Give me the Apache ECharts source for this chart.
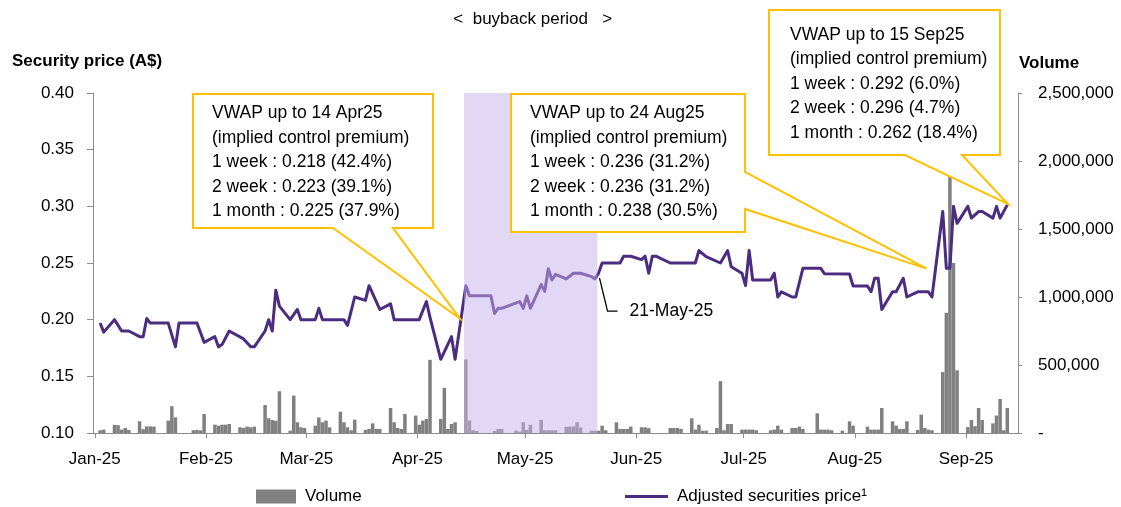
<!DOCTYPE html>
<html>
<head>
<meta charset="utf-8">
<title>Security price and volume</title>
<script src="https://cdn.jsdelivr.net/npm/echarts@6/dist/echarts.min.js"></script>
<style>
  html, body { margin: 0; padding: 0; background: #fff; }
  #chart { width: 1121px; height: 507px; }
</style>
</head>
<body>
<div id="chart"></div>
<script>
// price turning points, [day of month, A$]
const priceJan = [[2, .197], [3, .189], [6, .200], [8, .190], [10, .190], [13, .185], [14, .185], [15, .201], [16, .197], [21, .197], [23, .176], [24, .197], [29, .197], [31, .180]];
const priceFeb = [[3, .185], [4, .176], [5, .178], [7, .190], [11, .183], [13, .176], [14, .176], [17, .190], [18, .200], [19, .190], [20, .226], [21, .212], [24, .200], [26, .209], [27, .200]];
const priceMar = [[3, .200], [4, .210], [5, .200], [11, .200], [12, .195], [14, .220], [17, .217], [18, .230], [21, .209], [24, .214], [25, .200], [31, .200]];
const priceApr = [[1, .200], [3, .216], [4, .202], [7, .165], [10, .185], [11, .165], [14, .230], [15, .221], [21, .221], [22, .2055], [23, .210], [24, .210], [29, .216], [30, .210]];
const priceMay = [[1, .221], [2, .210], [5, .231], [6, .225], [7, .245], [8, .235], [9, .240], [12, .236], [14, .241], [16, .241], [19, .238], [20, .236], [21, .241], [22, .250], [27, .250], [28, .256], [30, .256]];
const priceJun = [[2, .253], [3, .256], [4, .241], [5, .256], [6, .256], [10, .250], [17, .250], [18, .261], [20, .2556], [24, .250], [26, .261], [27, .2467], [30, .241]];
const priceJul = [[1, .230], [2, .261], [3, .235], [8, .235], [9, .241], [10, .220], [11, .2246], [14, .220], [15, .220], [17, .2453], [22, .2453], [23, .2405], [30, .2403], [31, .2297]];
const priceAug = [[4, .2297], [5, .2246], [6, .2365], [7, .2365], [8, .209], [11, .2246], [12, .2246], [14, .2365], [15, .220], [18, .2246], [21, .2246], [22, .220], [25, .2954], [26, .2453], [27, .2453], [28, .300], [29, .285]];
const priceSep = [[1, .300], [2, .2896], [4, .2954], [5, .2954], [8, .2896], [9, .300], [10, .2896], [12, .3013]];

// daily volume, [day of month, thousands of shares]
const volJan = [[2, 20], [3, 25], [6, 60], [7, 58], [8, 25], [9, 37], [10, 22], [13, 86], [14, 28], [15, 49], [16, 49], [17, 47], [21, 91], [22, 197], [23, 115], [28, 20], [29, 22], [30, 20], [31, 140]];
const volFeb = [[3, 61], [4, 54], [5, 61], [6, 61], [7, 66], [10, 42], [11, 37], [12, 47], [13, 42], [14, 47], [17, 206], [18, 108], [19, 95], [20, 90], [21, 307], [24, 17], [25, 275], [26, 79], [27, 42], [28, 37]];
const volMar = [[3, 54], [4, 115], [5, 79], [6, 91], [7, 42], [10, 157], [11, 79], [12, 42], [13, 20], [14, 98], [17, 22], [18, 30], [19, 71], [20, 30], [21, 30], [24, 184], [25, 79], [26, 37], [27, 30], [28, 140], [31, 128]];
const volApr = [[1, 61], [2, 91], [3, 103], [4, 538], [7, 103], [8, 332], [9, 30], [10, 66], [11, 79], [14, 540], [15, 92], [16, 20], [17, 15], [22, 15], [23, 30], [24, 30], [28, 17], [29, 10], [30, 79]];
const volMay = [[1, 22], [2, 61], [5, 97], [6, 20], [7, 20], [8, 20], [9, 20], [12, 45], [13, 47], [14, 47], [15, 79], [16, 40], [19, 17], [20, 17], [21, 17], [22, 54], [23, 20], [26, 79], [27, 30], [28, 30], [29, 30], [30, 47]];
const volJun = [[2, 42], [3, 42], [4, 35], [10, 37], [11, 37], [12, 37], [13, 30], [16, 108], [17, 25], [18, 61], [19, 17], [20, 17], [23, 37], [24, 381], [25, 20], [26, 66], [27, 66], [30, 25]];
const volJul = [[1, 25], [2, 25], [3, 25], [4, 20], [8, 20], [9, 25], [10, 54], [11, 25], [14, 37], [15, 37], [16, 47], [17, 30], [21, 145], [22, 25], [23, 25], [24, 25], [25, 20], [28, 17], [30, 86], [31, 54]];
const volAug = [[4, 47], [5, 25], [6, 25], [7, 25], [8, 184], [11, 86], [12, 54], [13, 30], [14, 30], [15, 86], [18, 22], [19, 135], [20, 37], [21, 25], [22, 20], [25, 448], [26, 884], [27, 1950], [28, 1250], [29, 461]];
const volSep = [[1, 43], [2, 96], [3, 50], [4, 184], [5, 96], [8, 71], [9, 128], [10, 250], [11, 20], [12, 184]];

const monthNames = ['Jan', 'Feb', 'Mar', 'Apr', 'May', 'Jun', 'Jul', 'Aug', 'Sep', 'Oct', 'Nov', 'Dec'];
const priceTicks = [0.10, 0.15, 0.20, 0.25, 0.30, 0.35, 0.40];
const volumeTicks = [0, 500000, 1000000, 1500000, 2000000, 2500000];

const buybackStart = new Date(2025, 3, 14, 0);
const buybackEnd = new Date(2025, 4, 21, 4);

const callouts = [
  {
    lines: ['VWAP up to 14 Apr25', '(implied control premium)', '1 week : 0.218 (42.4%)', '2 week : 0.223 (39.1%)', '1 month : 0.225 (37.9%)'],
    outline: [[193, 94], [433, 94], [433, 228], [393, 228], [333, 228], [193, 228]],
    tipIndex: 4, tip: [new Date(2025, 3, 12, 20), 0.201], text: [212, 113.5]
  },
  {
    lines: ['VWAP up to 24 Aug25', '(implied control premium)', '1 week : 0.236 (31.2%)', '2 week : 0.236 (31.2%)', '1 month : 0.238 (30.5%)'],
    outline: [[511, 94], [745, 94], [745, 172], [745, 209], [745, 232], [511, 232]],
    tipIndex: 3, tip: [new Date(2025, 7, 21, 0), 0.245], text: [530, 113.5]
  },
  {
    lines: ['VWAP up to 15 Sep25', '(implied control premium)', '1 week : 0.292 (6.0%)', '2 week : 0.296 (4.7%)', '1 month : 0.262 (18.4%)'],
    outline: [[769, 10], [1000, 10], [1000, 155], [962, 155], [905, 155], [769, 155]],
    tipIndex: 4, tip: [new Date(2025, 8, 12, 17), 0.302], text: [790, 35]
  }
];

function dated(months, scale) {
  const out = [];
  months.forEach(function (rows, m) {
    rows.forEach(function (r) {
      out.push([new Date(2025, m, r[0], 12).getTime(), r[1] * scale]);
    });
  });
  return out;
}

const priceData = dated([priceJan, priceFeb, priceMar, priceApr, priceMay, priceJun, priceJul, priceAug, priceSep], 1);
const volumeData = dated([volJan, volFeb, volMar, volApr, volMay, volJun, volJul, volAug, volSep], 1000);

const FONT = '"Liberation Sans", Arial, sans-serif';
const DAY = 86400000;
const chart = echarts.init(document.getElementById('chart'));

chart.setOption({
  animation: false,
  textStyle: { fontFamily: FONT },
  grid: { left: 93, right: 103, top: 93, bottom: 74 },
  legend: [
    {
      data: ['Volume'], left: 251, top: 483, icon: 'rect', itemWidth: 40, itemHeight: 14,
      textStyle: { fontSize: 17, color: '#000', padding: [0, 0, 0, 4] }
    },
    {
      data: ['Adjusted securities price¹'], left: 620, top: 483, icon: 'rect', itemWidth: 43, itemHeight: 3,
      textStyle: { fontSize: 17, color: '#000', padding: [0, 0, 0, 4] }
    }
  ],
  xAxis: {
    type: 'time',
    min: new Date(2025, 0, 1).getTime(),
    max: new Date(2025, 8, 15).getTime(),
    splitNumber: 9,
    minInterval: 28 * DAY,
    maxInterval: 31 * DAY,
    axisLine: { lineStyle: { color: '#8c8c8c', width: 1 } },
    axisTick: { show: true, length: 5, lineStyle: { color: '#8c8c8c' } },
    splitLine: { show: false },
    axisLabel: {
      color: '#000', fontSize: 17, margin: 18, showMaxLabel: false,
      formatter: function (v) {
        const d = new Date(v);
        return monthNames[d.getMonth()] + '-' + String(d.getFullYear()).slice(2);
      }
    }
  },
  yAxis: [
    {
      type: 'value', position: 'left',
      min: priceTicks[0], max: priceTicks[priceTicks.length - 1], interval: 0.05,
      axisLine: { show: true, lineStyle: { color: '#8c8c8c' } },
      axisTick: { show: true, length: 6, lineStyle: { color: '#8c8c8c' } },
      splitLine: { show: false },
      axisLabel: { color: '#000', fontSize: 17, margin: 19, formatter: function (v) { return v.toFixed(2); } }
    },
    {
      type: 'value', position: 'right',
      min: volumeTicks[0], max: volumeTicks[volumeTicks.length - 1], interval: 500000,
      axisLine: { show: true, lineStyle: { color: '#8c8c8c' } },
      axisTick: { show: true, length: 4, lineStyle: { color: '#8c8c8c' } },
      splitLine: { show: false },
      axisLabel: {
        color: '#000', fontSize: 17, margin: 20,
        formatter: function (v) { return v === 0 ? '-' : v.toLocaleString('en-US'); }
      }
    }
  ],
  series: [
    {
      name: 'Volume', type: 'bar', yAxisIndex: 1, barWidth: 3.5,
      itemStyle: { color: '#808080' },
      data: volumeData,
      markArea: {
        silent: true, z: 10,
        itemStyle: { color: 'rgba(200,176,238,0.5)' },
        data: [[{ xAxis: buybackStart.getTime() }, { xAxis: buybackEnd.getTime() }]]
      }
    },
    {
      name: 'Adjusted securities price¹', type: 'line', yAxisIndex: 0, z: 5,
      symbol: 'none', color: '#4b2c80',
      lineStyle: { width: 3, color: '#4b2c80', join: 'round' },
      data: priceData
    }
  ]
});

function px(date, value) {
  return chart.convertToPixel({ xAxisIndex: 0, yAxisIndex: 0 }, [date.getTime(), value]);
}

const graphics = [];
graphics.push({ type: 'text', x: 12, y: 61, style: { text: 'Security price (A$)', font: 'bold 17px ' + FONT, fill: '#000', verticalAlign: 'middle' } });
graphics.push({ type: 'text', x: 1019, y: 63, style: { text: 'Volume', font: 'bold 17px ' + FONT, fill: '#000', verticalAlign: 'middle' } });

const bs = px(buybackStart, 0.4), be = px(buybackEnd, 0.4);
graphics.push({ type: 'text', x: (bs[0] + be[0]) / 2 + 2, y: 19, style: { text: '<  buyback period   >', font: '17px ' + FONT, fill: '#000', align: 'center', verticalAlign: 'middle' } });

callouts.forEach(function (c) {
  const pts = c.outline.slice();
  pts.splice(c.tipIndex, 0, px(c.tip[0], c.tip[1]));
  graphics.push({ type: 'polygon', z: 100, shape: { points: pts }, style: { fill: '#fff', stroke: '#ffc000', lineWidth: 2 } });
  graphics.push({
    type: 'text', z: 101, x: c.text[0], y: c.text[1] - 12.25,
    style: { text: c.lines.join('\n'), font: '17.5px ' + FONT, lineHeight: 24.5, fill: '#000', verticalAlign: 'top' }
  });
});

const may21 = px(new Date(2025, 4, 21, 12), 0.241);
graphics.push({
  type: 'polyline', z: 100,
  shape: { points: [[may21[0] + 1, may21[1] + 5], [may21[0] + 9, may21[1] + 38], [may21[0] + 19, may21[1] + 38]] },
  style: { stroke: '#000', lineWidth: 1.3, fill: null }
});
graphics.push({ type: 'text', z: 100, x: may21[0] + 31, y: may21[1] + 38, style: { text: '21-May-25', font: '17.5px ' + FONT, fill: '#000', verticalAlign: 'middle' } });

chart.setOption({ graphic: graphics });
</script>
</body>
</html>
